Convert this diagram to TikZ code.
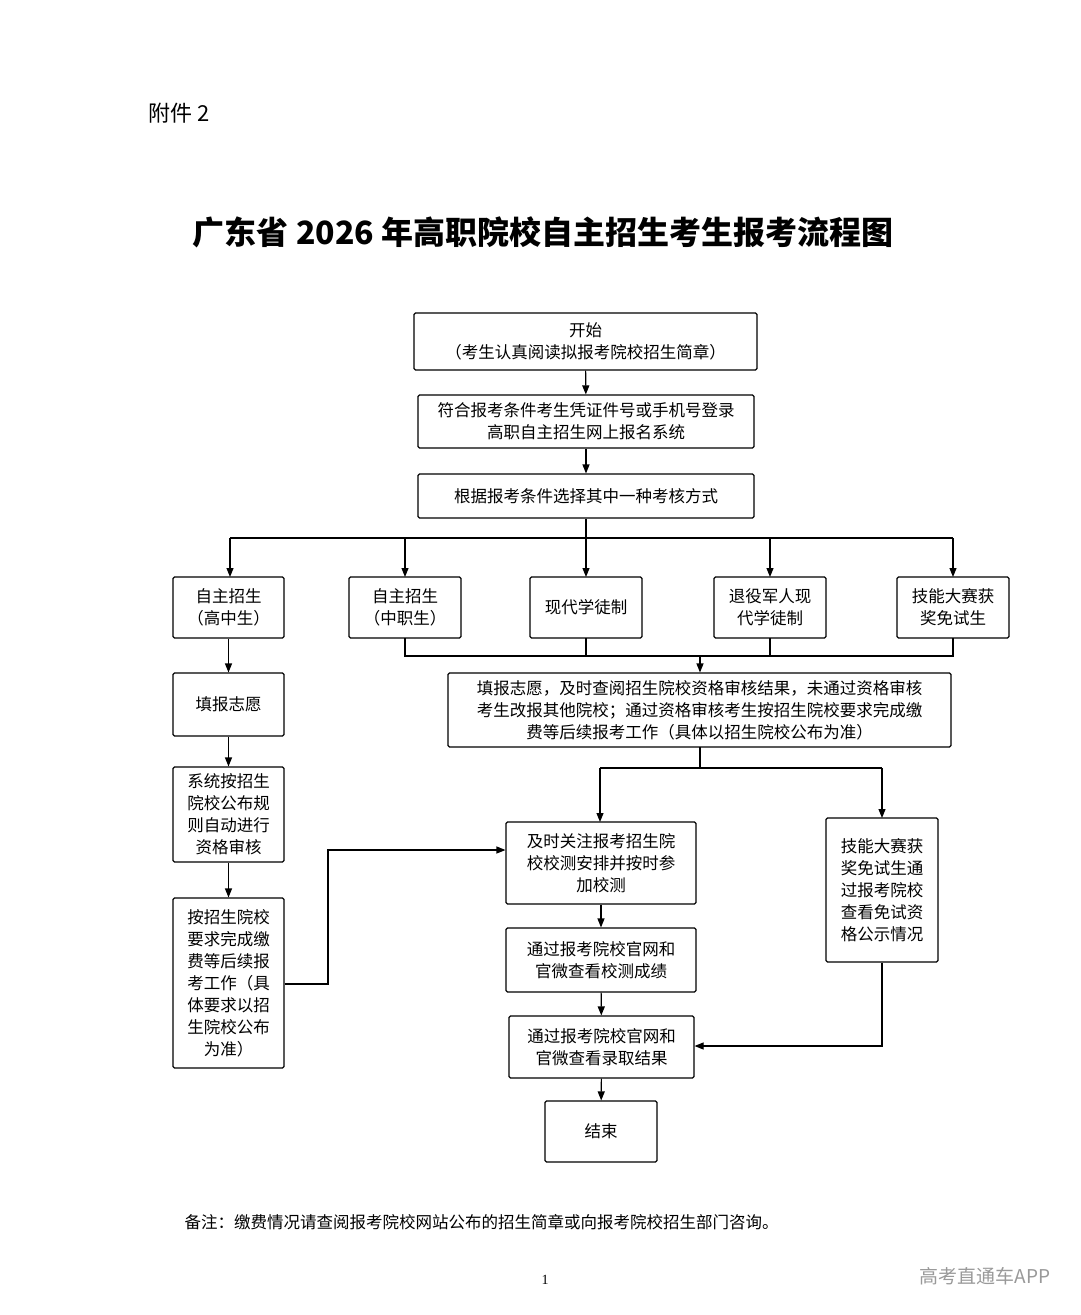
\documentclass[tikz,border=0pt]{standalone}
\usepackage{fontspec}
\setmainfont{Liberation Serif}
\newfontfamily\cjk{Noto Sans CJK SC}
\usetikzlibrary{arrows.meta}
\begin{document}
\begin{tikzpicture}[x=1pt,y=-1pt,
  box/.style={draw,line width=1.1pt,rounded corners=1.5pt,align=center,font=\cjk\fontsize{16.5}{22}\selectfont,inner sep=2pt},
  ar/.style={-{Triangle[length=9pt,width=7pt]},line width=1.1pt},
  ln/.style={line width=1.1pt}]
\useasboundingbox (0,0) rectangle (1080,1315);
\fill[white] (0,0) rectangle (1080,1315);
\node[font=\cjk\fontsize{22}{26}\selectfont,anchor=west] (att) at (145,113) {附件 2};
\node[font=\cjk\bfseries\fontsize{32}{36}\selectfont] (title) at (543,232) {广东省 2026 年高职院校自主招生考生报考流程图};
\newcommand{\bx}[6]{\node[box,minimum width=#3-#2,minimum height=#5-#4] (#1) at ({(#2+#3)/2},{(#4+#5)/2}) {#6};}
\bx{s}{414}{757}{313}{370}{开始\\（考生认真阅读拟报考院校招生简章）}
\bx{b2}{418}{754}{395}{448}{符合报考条件考生凭证件号或手机号登录\\高职自主招生网上报名系统}
\bx{b3}{418}{754}{474}{518}{根据报考条件选择其中一种考核方式}
\bx{ra}{173}{284}{577}{638}{自主招生\\（高中生）}
\bx{rb}{349}{461}{577}{638}{自主招生\\（中职生）}
\bx{rc}{530}{642}{577}{638}{现代学徒制}
\bx{rd}{714}{826}{577}{638}{退役军人现\\代学徒制}
\bx{re}{897}{1009}{577}{638}{技能大赛获\\奖免试生}
\bx{fill}{448}{951}{673}{747}{填报志愿，及时查阅招生院校资格审核结果，未通过资格审核\\考生改报其他院校；通过资格审核考生按招生院校要求完成缴\\费等后续报考工作（具体以招生院校公布为准）}
\bx{l1}{173}{284}{673}{736}{填报志愿}
\bx{l2}{173}{284}{767}{862}{系统按招生\\院校公布规\\则自动进行\\资格审核}
\bx{l3}{173}{284}{898}{1068}{按招生院校\\要求完成缴\\费等后续报\\考工作（具\\体要求以招\\生院校公布\\为准）}
\bx{m1}{506}{696}{822}{904}{及时关注报考招生院\\校校测安排并按时参\\加校测}
\bx{m2}{506}{696}{928}{992}{通过报考院校官网和\\官微查看校测成绩}
\bx{m3}{509}{694}{1016}{1078}{通过报考院校官网和\\官微查看录取结果}
\bx{m4}{545}{657}{1101}{1162}{结束}
\bx{rr}{826}{938}{818}{962}{技能大赛获\\奖免试生通\\过报考院校\\查看免试资\\格公示情况}
\draw[ar] (s) -- (b2);
\draw[ar] (b2) -- (b3);
\coordinate (j1) at (586,538);
\draw[ln] (b3.south) -- (j1);
\draw[ln] (230,538) -- (953,538);
\foreach \n/\x in {ra/230,rb/405,rc/586,rd/770,re/953} \draw[ar] (\x,538) -- (\x,577);
\draw[ln] (405,638) -- (405,656) -- (953,656) -- (953,638);
\draw[ln] (586,638) -- (586,656);
\draw[ln] (770,638) -- (770,656);
\draw[ar] (700,656) -- (fill.north -| 700,0);
\draw[ar] (ra) -- (l1);
\draw[ar] (l1) -- (l2);
\draw[ar] (l2) -- (l3);
\draw[ln] (700,747) -- (700,768);
\draw[ln] (600,768) -- (882,768);
\draw[ar] (600,768) -- (600,822);
\draw[ar] (882,768) -- (882,818);
\draw[ar] (l3.east |- 0,984) -- (328,984) -- (328,850) -- (m1.west |- 0,850);
\draw[ar] (m1) -- (m2);
\draw[ar] (m2) -- (m3);
\draw[ar] (m3) -- (m4);
\draw[ar] (rr.south) -- (882,1046) -- (m3.east |- 0,1046);
\node[font=\cjk\fontsize{16.5}{20}\selectfont,anchor=west] (note) at (181,1222) {备注：缴费情况请查阅报考院校网站公布的招生简章或向报考院校招生部门咨询。};
\node[font=\fontsize{14}{16}\selectfont] (pg) at (545,1280) {1};
\node[font=\cjk\fontsize{19}{22}\selectfont,text=gray!80,anchor=east] (wm) at (1054,1276) {高考直通车APP};
\end{tikzpicture}
\end{document}
